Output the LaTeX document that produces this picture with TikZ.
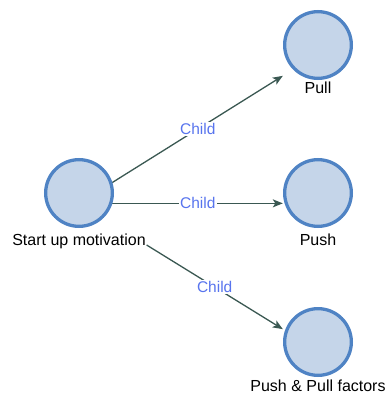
\documentclass[tikz,border=0pt]{standalone}
\usepackage{fontspec}
\setmainfont{Liberation Sans}
\usetikzlibrary{arrows.meta,fit,backgrounds}
\definecolor{ringblue}{RGB}{79,131,196}
\definecolor{discfill}{RGB}{197,213,233}
\definecolor{edgegreen}{RGB}{58,88,82}
\definecolor{childblue}{RGB}{88,116,238}
\begin{document}
\begin{tikzpicture}[x=1pt,y=-1pt,
  disc/.style={circle,draw=ringblue,line width=3.3pt,fill=discfill,minimum size=66.7pt,inner sep=0pt},
  caption/.style={anchor=base,inner sep=0.5pt,text depth=3pt,font=\fontsize{16}{19}\selectfont},
  hull/.style={inner sep=0pt,draw=none},
  link/.style={draw=edgegreen,line width=1.3pt,-{Stealth[length=10pt,width=8pt,inset=2.5pt]}},
  tag/.style={fill=white,inner sep=1.5pt,text=childblue,font=\fontsize{15.5}{18}\selectfont}]
\useasboundingbox (0,0) rectangle (387,393);

% root topic
\node[disc] (c0) at (79,193) {};
\node[caption] (l0) at (79,245) {Start up motivation};
\node[hull,fit=(c0)(l0)] (b0) {};

% child topics
\node[disc] (c1) at (318,45) {};
\node[caption] (l1) at (318,94) {Pull};
\node[hull,fit=(c1)(l1.south)] (t1) {};

\node[disc] (c2) at (318,193) {};
\node[caption] (l2) at (318,245) {Push};
\node[hull,fit=(c2)(l2.south)] (t2) {};

\node[disc] (c3) at (318,342) {};
\node[caption] (l3) at (318,391) {Push \& Pull factors};
\node[hull,fit=(c3)(l3.south)] (t3) {};

% parent-child links
\begin{scope}[on background layer]
\draw[link] (b0.center) -- node[tag,pos=0.583]{Child} (t1);
\draw[link] (b0.center) -- node[tag,pos=0.583]{Child} (t2);
\draw[link] (b0) -- node[tag]{Child} (t3);
\end{scope}
\end{tikzpicture}
\end{document}
